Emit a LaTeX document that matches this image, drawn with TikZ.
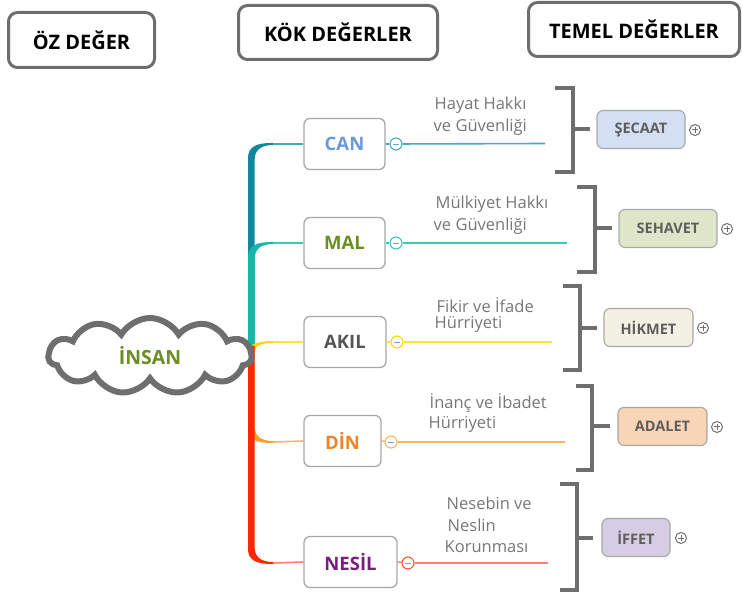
\documentclass[tikz,border=0pt]{standalone}
\usepackage{fontspec}
\setmainfont{Open Sans}
\usetikzlibrary{shapes.symbols}

\definecolor{frame}{HTML}{6E6E6E}
\definecolor{boxline}{HTML}{A8A8A8}
\definecolor{note}{HTML}{777777}
\definecolor{tealdark}{HTML}{0F879F}
\definecolor{teallight}{HTML}{3FAFC0}
\definecolor{turq}{HTML}{15B8A6}
\definecolor{turqlight}{HTML}{3EC6BA}
\definecolor{yel}{HTML}{F7D800}
\definecolor{yellight}{HTML}{FFE23A}
\definecolor{ora}{HTML}{F7A02E}
\definecolor{oralight}{HTML}{FDB45A}
\definecolor{redt}{HTML}{FF2600}
\definecolor{redlight}{HTML}{FF7E70}
\definecolor{cantxt}{HTML}{6A98DD}
\definecolor{maltxt}{HTML}{6B8E23}
\definecolor{akiltxt}{HTML}{555555}
\definecolor{dintxt}{HTML}{EE8427}
\definecolor{nesiltxt}{HTML}{7A1E7E}
\definecolor{valtxt}{HTML}{5E5E5E}
\definecolor{minusdash}{HTML}{8A96C8}

\tikzset{
  header/.style={draw=frame, line width=3pt, rounded corners=9pt, fill=white,
    font=\bfseries\fontsize{20}{24}\selectfont, text=black, inner sep=0pt},
  keybox/.style={draw=boxline, line width=1.3pt, rounded corners=6pt, fill=white,
    font=\bfseries\fontsize{18.5}{22}\selectfont, inner sep=0pt,
    minimum height=51pt},
  valbox/.style={draw=boxline, line width=1.1pt, rounded corners=6pt,
    font=\bfseries\fontsize{14.5}{17}\selectfont, text=valtxt, inner sep=0pt,
    minimum height=38pt},
  notetext/.style={font=\fontsize{16.5}{19}\selectfont, text=note, anchor=west, inner sep=0pt},
  bracket/.style={draw=frame, line width=4pt, line join=miter},
  thinline/.style={line width=1.6pt},
  minusdot/.style={circle, draw=#1, line width=1.1pt, fill=white,
    minimum size=12pt, inner sep=0pt,
    path picture={\draw[minusdash, line width=0.9pt]
      ([xshift=-3pt]path picture bounding box.center) --
      ([xshift=3pt]path picture bounding box.center);}},
  plusdot/.style={circle, draw=frame, line width=1pt, fill=white,
    minimum size=11pt, inner sep=0pt,
    path picture={\draw[frame, line width=1pt]
      ([xshift=-2.8pt]path picture bounding box.center) --
      ([xshift=2.8pt]path picture bounding box.center)
      ([yshift=-2.8pt]path picture bounding box.center) --
      ([yshift=2.8pt]path picture bounding box.center);}},
}

% tapered trunk branch rising from the hub to level #2
\newcommand\branchup[2]{%
  \fill[#1] (248,352) -- (248,{#2+14}) .. controls (248,{#2+3}) and (256,{#2-1.3}) ..
    (273,{#2-1}) -- (273,{#2+1}) .. controls (261,{#2+1}) and (254.6,{#2+6}) ..
    (254.6,{#2+16}) -- (254.6,352) -- cycle;}
% tapered trunk branch falling from the hub to level #2
\newcommand\branchdown[2]{%
  \fill[#1] (248,346) -- (248,{#2-14}) .. controls (248,{#2-3}) and (256,{#2+1.3}) ..
    (273,{#2+1}) -- (273,{#2-1}) .. controls (261,{#2-1}) and (254.6,{#2-6}) ..
    (254.6,{#2-16}) -- (254.6,346) -- cycle;}

\begin{document}
\begin{tikzpicture}[x=1pt,y=-1pt]
\useasboundingbox (0,0) rectangle (742,593);

% column headers
\node[header, minimum width=146pt, minimum height=55pt] (hoz) at (81.5,40) {ÖZ DEĞER};
\node[header, minimum width=199pt, minimum height=54pt] (hkok) at (338,32.5) {KÖK DEĞERLER};
\node[header, minimum width=211pt, minimum height=54pt] (htemel) at (634,29.5) {TEMEL DEĞERLER};

% trunk of the mind map
\branchup{tealdark}{144}
\branchup{turq}{243}
\fill[yel] (248,352) .. controls (248,345) and (256,341.2) .. (273,341) -- (273,343)
  .. controls (261,343) and (254.6,346) .. (254.6,352) -- cycle;
\branchdown{ora}{442}
\branchdown{redt}{563}

% root
\node[cloud, cloud puffs=11, cloud puff arc=120, aspect=2.5, draw=frame,
  line width=6pt, fill=white, minimum width=203pt, minimum height=76pt,
  font=\bfseries\fontsize{19.5}{23}\selectfont, text=maltxt] (insan) at (150,356) {İNSAN};

% key values
\node[keybox, minimum width=81pt, text=cantxt] (can) at (344.5,144) {CAN};
\node[keybox, minimum width=81pt, text=maltxt] (mal) at (344.5,243) {MAL};
\node[keybox, minimum width=82pt, text=akiltxt] (akil) at (345,342) {AKIL};
\node[keybox, minimum width=77pt, text=dintxt] (din) at (342.5,441) {DİN};
\node[keybox, minimum width=93pt, text=nesiltxt] (nesil) at (350.5,562) {NESİL};

% thin ends of the branches
\coordinate (tcan) at (273,144);
\coordinate (tmal) at (273,243);
\coordinate (takil) at (273,342);
\coordinate (tdin) at (273,442);
\coordinate (tnesil) at (273,563);
\draw[teallight, thinline] (tcan) -- (can.west);
\draw[turqlight, thinline] (tmal) -- (mal.west);
\draw[yellight, thinline] (takil) -- (akil.west);
\draw[oralight, thinline] (tdin) -- (din.west);
\draw[redlight, thinline] (tnesil) -- (nesil.west);

% collapse markers and outgoing lines
\node[minusdot=teallight] (mcan) at (396,144) {};
\node[minusdot=turqlight] (mmal) at (396,243) {};
\node[minusdot=yel] (makil) at (397,342) {};
\node[minusdot=oralight] (mdin) at (391,442) {};
\node[minusdot=redt!80] (mnesil) at (408,563) {};
\coordinate (ecan) at (545,143.5);
\coordinate (emal) at (567,243);
\coordinate (eakil) at (552,342);
\coordinate (edin) at (565,442);
\coordinate (enesil) at (548,563);
\draw[teallight, thinline] (can.east) -- (mcan) (mcan) -- (ecan);
\draw[turqlight, thinline] (mal.east) -- (mmal) (mmal) -- (emal);
\draw[yellight, thinline] (akil.east) -- (makil) (makil) -- (eakil);
\draw[oralight, thinline] (din.east) -- (mdin) (mdin) -- (edin);
\draw[redlight, thinline] (nesil.east) -- (mnesil) (mnesil) -- (enesil);

% rights written over the lines
\node[notetext] (n1a) at (434.5,105) {Hayat Hakkı};
\node[notetext] (n1b) at (433.5,127) {ve Güvenliği};
\node[notetext] (n2a) at (435.5,204) {Mülkiyet Hakkı};
\node[notetext] (n2b) at (433.5,226.5) {ve Güvenliği};
\node[notetext] (n3a) at (436.5,305) {Fikir ve İfade};
\node[notetext] (n3b) at (434.5,324.5) {Hürriyeti};
\node[notetext] (n4a) at (429.5,403) {İnanç ve İbadet};
\node[notetext] (n4b) at (428.5,424) {Hürriyeti};
\node[notetext] (n5a) at (446.5,503) {Nesebin ve};
\node[notetext] (n5b) at (447.5,525) {Neslin};
\node[notetext] (n5c) at (444.5,547) {Korunması};

% brackets grouping each key value with its basic value
\draw[bracket] (555,88) -- (573,88) -- (573,172) -- (555,172) (573,129.5) -- (590,129.5);
\draw[bracket] (577,187) -- (595,187) -- (595,272) -- (577,272) (595,228) -- (612,228);
\draw[bracket] (563,286) -- (580,286) -- (580,370) -- (563,370) (580,328) -- (597,328);
\draw[bracket] (576,386) -- (592,386) -- (592,470) -- (576,470) (592,426.5) -- (610,426.5);
\draw[bracket] (560,484) -- (577,484) -- (577,590) -- (560,590) (577,538) -- (593,538);

% basic values
\node[valbox, fill={rgb,255:red,211;green,224;blue,243}, minimum width=88pt] (secaat) at (641,129.5) {ŞECAAT};
\node[valbox, fill={rgb,255:red,221;green,230;blue,200}, minimum width=98pt] (sehavet) at (668,228.5) {SEHAVET};
\node[valbox, fill={rgb,255:red,243;green,240;blue,228}, minimum width=89pt] (hikmet) at (648.5,327.5) {HİKMET};
\node[valbox, fill={rgb,255:red,249;green,213;blue,184}, minimum width=89pt] (adalet) at (662.5,426.5) {ADALET};
\node[valbox, fill={rgb,255:red,214;green,205;blue,228}, minimum width=68pt] (iffet) at (636,537.5) {İFFET};

% expand markers
\node[plusdot] (pa) at (695,130) {};
\node[plusdot] (pb) at (727,229) {};
\node[plusdot] (pc) at (703,328) {};
\node[plusdot] (pd) at (717,427) {};
\node[plusdot] (pe) at (681,538) {};
\end{tikzpicture}
\end{document}
